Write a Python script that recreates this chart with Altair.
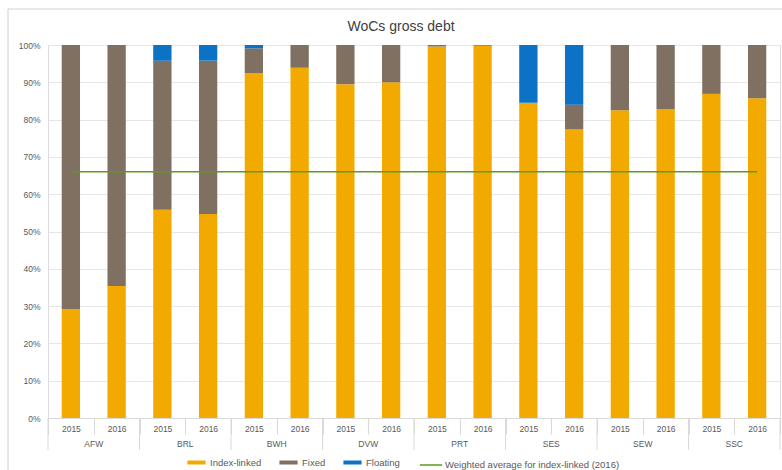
import altair as alt
import pandas as pd

# Gross debt split by instrument type, per company and year (% of total)
companies = ["AFW", "BRL", "BWH", "DVW", "PRT", "SES", "SEW", "SSC"]
years = ["2015", "2016"]
index_linked = [29.2, 35.4, 55.8, 54.7, 92.5, 93.9, 89.5, 90.0,
                99.6, 99.8, 84.5, 77.4, 82.5, 82.8, 86.9, 85.7]
floating = [0.0, 0.0, 4.2, 4.2, 0.9, 0.0, 0.0, 0.0,
            0.0, 0.0, 15.5, 16.0, 0.0, 0.0, 0.0, 0.0]
fixed = [round(100 - a - b, 1) for a, b in zip(index_linked, floating)]
weighted_avg_2016 = 66.0

series = ["Index-linked", "Fixed", "Floating"]
colors = ["#F2A900", "#7F7061", "#0B72C6"]
avg_label = "Weighted average for index-linked (2016)"
avg_color = "#5E9A1C"

keys = [f"{c}|{y}" for c in companies for y in years]

rows = []
for i, k in enumerate(keys):
    for s, vals in zip(series, [index_linked, fixed, floating]):
        rows.append({"key": k, "series": s, "order": series.index(s),
                     "share": vals[i] / 100})
bars_df = pd.DataFrame(rows)

groups_df = pd.DataFrame({"company": companies,
                          "first": [f"{c}|2015" for c in companies],
                          "second": [f"{c}|2016" for c in companies]})
avg_df = pd.DataFrame({"label": [avg_label], "value": [weighted_avg_2016 / 100],
                       "start": [keys[0]], "end": [keys[-1]]})
end_df = pd.DataFrame({"last": [keys[-1]]})

W, H = 732, 373
grey = "#595959"
line_grey = "#D9D9D9"
font = "Liberation Sans"

x_scale = alt.Scale(domain=keys, paddingInner=0, paddingOuter=0)
y_scale = alt.Scale(domain=[0, 1], nice=False)
y_axis = alt.Axis(format=".0%", values=[round(i / 10, 1) for i in range(11)],
                  ticks=False, domain=False, gridColor="#E6E6E6", labelOverlap=False,
                  labelFontSize=8.5, labelColor=grey, labelPadding=8, labelFont=font)

bars = alt.Chart(bars_df).mark_bar(width={"band": 0.4}).encode(
    x=alt.X("key:N", scale=x_scale, sort=keys, title=None,
            axis=alt.Axis(labelExpr="split(datum.value, '|')[1]", labelAngle=0,
                          tickBand="extent", tickSize=16, tickColor=line_grey,
                          domainColor=line_grey, labelPadding=-10,
                          labelFontSize=8.5, labelColor=grey, labelFont=font)),
    y=alt.Y("share:Q", stack="zero", scale=y_scale, title=None, axis=y_axis),
    color=alt.Color("series:N", scale=alt.Scale(domain=series, range=colors),
                    legend=alt.Legend(title=None, orient="none", direction="horizontal",
                                      legendX=139, legendY=H + 35,
                                      symbolType="M-1,-0.22H1V0.22H-1Z", symbolSize=330,
                                      symbolStrokeWidth=0, labelFontSize=9.5, labelColor=grey,
                                      labelFont=font, columnPadding=17, labelOffset=4)),
    order=alt.Order("order:Q"),
)

avg_line = alt.Chart(avg_df).mark_rule(strokeWidth=1.6).encode(
    x=alt.X("start:N", scale=x_scale, sort=keys),
    x2="end:N",
    y=alt.Y("value:Q", scale=y_scale, title=None, axis=y_axis),
    stroke=alt.Stroke("label:N", scale=alt.Scale(domain=[avg_label], range=[avg_color]),
                      legend=alt.Legend(title=None, orient="none",
                                        legendX=371, legendY=H + 35,
                                        symbolSize=500, symbolStrokeWidth=1.5,
                                        labelFontSize=9.5, labelColor=grey, labelLimit=300,
                                        labelFont=font, labelOffset=2)),
)

# Company group separators under the axis
separators = alt.Chart(groups_df).mark_rule(color=line_grey, strokeWidth=1).encode(
    x=alt.X("first:N", scale=x_scale, sort=keys, bandPosition=0),
    y=alt.value(H), y2=alt.value(H + 32),
)
end_sep = alt.Chart(end_df).mark_rule(color=line_grey, strokeWidth=1).encode(
    x=alt.X("last:N", scale=x_scale, sort=keys, bandPosition=1),
    y=alt.value(H), y2=alt.value(H + 32),
)

company_labels = alt.Chart(groups_df).mark_text(
    fontSize=8.5, color=grey, font=font, baseline="middle"
).encode(
    x=alt.X("second:N", scale=x_scale, sort=keys, bandPosition=0),
    y=alt.value(H + 26),
    text="company:N",
)

frame = alt.Chart(end_df).mark_rect(fill=None, stroke="#D0D0D0", strokeWidth=1).encode(
    x=alt.value(-40), x2=alt.value(W + 40),
    y=alt.value(-36), y2=alt.value(H + 80),
)

chart = alt.layer(frame, bars, avg_line, separators, end_sep, company_labels).properties(
    width=W, height=H,
    title=alt.TitleParams("WoCs gross debt", fontSize=14, fontWeight="normal",
                          color="#404040", font=font, frame="group",
                          dx=-13, dy=39, offset=14),
    autosize=alt.AutoSizeParams(type="none"),
    padding={"left": 48, "top": 45, "right": 2, "bottom": 52},
).resolve_scale(x="shared").configure_view(stroke=None).configure(background="white")

chart.save("out.html", embed_options={"renderer": "svg", "actions": False})
